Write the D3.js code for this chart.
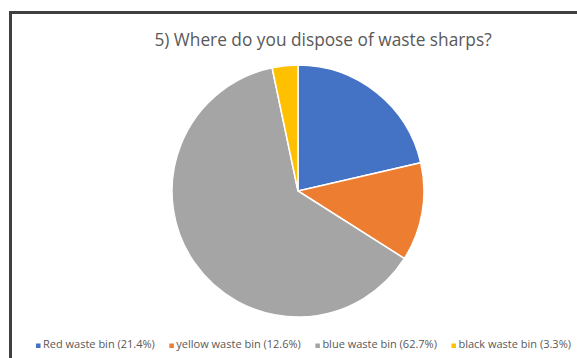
<!DOCTYPE html>
<html>
<head>
<meta charset="utf-8">
<script src="https://cdn.jsdelivr.net/npm/d3@7"></script>
<style>
  body { margin: 0; background: #fff; }
  svg { display: block; }
  text { font-family: "Open Sans", "Noto Sans", sans-serif; }
</style>
</head>
<body>
<script>
let w = 577;
let h = 358;

// data
let categories = ["Red waste bin", "yellow waste bin", "blue waste bin", "black waste bin"];
let values = [21.4, 12.6, 62.7, 3.3];
let colors = ["#4472C4", "#ED7D31", "#A5A5A5", "#FFC000"];
let title = "5) Where do you dispose of waste sharps?";

let svg = d3.select("body")
  .append("svg")
  .attr("width", w)
  .attr("height", h);

// frame (only top and left edges show in the crop)
svg.append("path")
  .attr("d", "M10.5," + h + " V12.5 H" + w)
  .attr("fill", "none")
  .attr("stroke", "#404040")
  .attr("stroke-width", 3);

svg.append("text")
  .attr("x", 323)
  .attr("y", 46)
  .attr("text-anchor", "middle")
  .style("font-size", "17.3px")
  .style("fill", "#595959")
  .text(title);

let radius = 126;
let pie = d3.pie().sort(null).value(d => d);
let arc = d3.arc().innerRadius(0).outerRadius(radius);

let g = svg.append("g")
  .attr("transform", "translate(298,191)");

g.selectAll("path")
  .data(pie(values))
  .enter()
  .append("path")
  .attr("d", arc)
  .attr("fill", (d, i) => colors[i])
  .attr("stroke", "#fff")
  .attr("stroke-width", 1.5);

// legend
let legend = svg.append("g").attr("id", "legend");
let lx = 36;
categories.forEach(function(c, i) {
  let item = legend.append("g").attr("transform", "translate(" + lx + ",348)");
  item.append("rect")
    .attr("x", 0)
    .attr("y", -4.5)
    .attr("width", 4.5)
    .attr("height", 4.5)
    .attr("fill", colors[i]);
  let t = item.append("text")
    .attr("x", 7)
    .attr("y", 0)
    .style("font-size", "11px")
    .style("fill", "#595959")
    .text(c + " (" + values[i] + "%)");
  lx += 7 + t.node().getComputedTextLength() + 14.5;
});
</script>
</body>
</html>
